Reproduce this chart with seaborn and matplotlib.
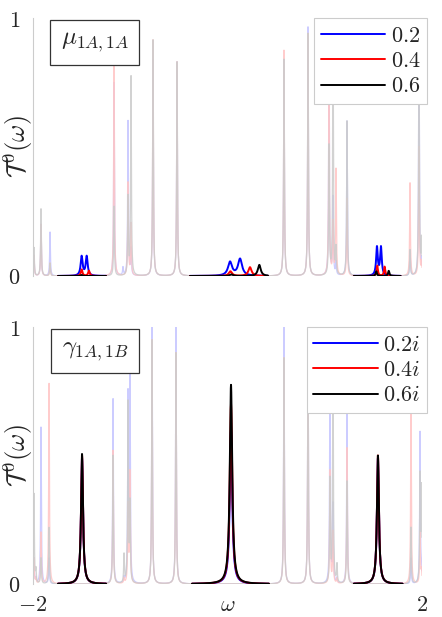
import numpy as np
import pandas as pd
import seaborn as sns
import matplotlib.pyplot as plt
from matplotlib.ticker import FixedLocator

sns.set_style("white")
plt.rcParams['mathtext.fontset'] = 'cm'
plt.rcParams['font.family'] = ['DejaVu Serif']

# ---- data: peak centre, height per curve ----
# top panel (mu), faint full spectra
top_bg_pos = [-1.99, -1.918, -1.825, -1.167, -1.075, -1.023, -0.992, -0.766, -0.519,
              0.581, 0.828, 1.044, 1.085, 1.116, 1.229, 1.877, 1.969, 1.995]
top_bg_blue = [0.08, 0.20, 0.17, 0.75, 0.03, 0.60, 0.10, 0.84, 0.83,
               0.84, 0.965, 0.95, 0.30, 0.05, 0.60, 0.10, 0.95, 0.05]
top_bg_red = [0.08, 0.20, 0.05, 0.86, 0.00, 0.36, 0.20, 0.915, 0.83,
              0.875, 0.94, 0.90, 0.20, 0.41, 0.30, 0.36, 0.50, 0.05]
top_bg_black = [0.11, 0.26, 0.05, 0.27, 0.00, 0.30, 0.77, 0.915, 0.83,
                0.84, 0.94, 0.50, 0.95, 0.10, 0.60, 0.10, 0.97, 0.13]

# bottom panel (gamma), faint full spectra
bot_bg_pos = [-1.99, -1.97, -1.918, -1.835, -1.177, -1.064, -1.023, -1.003, -0.776, -0.53,
              0.581, 0.828, 1.054, 1.085, 1.126, 1.229, 1.887, 1.98, 1.995]
bot_bg_blue = [0.10, 0.02, 0.61, 0.10, 0.72, 0.02, 0.72, 0.81, 1.00, 1.00,
               1.00, 1.00, 0.90, 0.30, 0.02, 0.68, 0.10, 0.59, 0.05]
bot_bg_red = [0.10, 0.02, 0.20, 0.78, 0.52, 0.02, 0.30, 0.43, 0.95, 0.90,
              0.88, 0.95, 0.44, 0.20, 0.02, 0.53, 0.68, 0.20, 0.05]
bot_bg_black = [0.35, 0.05, 0.10, 0.22, 0.50, 0.11, 0.70, 0.30, 0.95, 0.90,
                0.88, 0.95, 0.40, 0.90, 0.07, 0.40, 0.22, 0.41, 0.36]

# highlighted windows (start, end)
windows_top = [(-1.743, -1.249), (-0.386, 0.416), (1.30, 1.78)]
windows_bot = [(-1.743, -1.249), (-0.365, 0.427), (1.30, 1.80)]

# highlighted peaks: (centre, height, half width)
top_hl = {
    '0.2': [(-1.50, 0.075, 0.012), (-1.448, 0.075, 0.012), (0.026, 0.053, 0.025),
            (0.129, 0.065, 0.025), (1.537, 0.11, 0.01), (1.578, 0.11, 0.01)],
    '0.4': [(-1.50, 0.025, 0.01), (-1.425, 0.02, 0.01), (0.03, 0.018, 0.02),
            (0.231, 0.034, 0.02), (1.54, 0.04, 0.008), (1.616, 0.036, 0.008)],
    '0.6': [(-1.50, 0.004, 0.01), (0.04, 0.006, 0.02), (0.327, 0.043, 0.018),
            (1.53, 0.018, 0.008), (1.658, 0.02, 0.008)],
}
bot_hl = {
    '0.2i': [(-1.496, 0.49, 0.012), (0.036, 0.60, 0.015), (1.547, 0.49, 0.012)],
    '0.4i': [(-1.496, 0.50, 0.012), (0.036, 0.70, 0.015), (1.547, 0.50, 0.012)],
    '0.6i': [(-1.496, 0.506, 0.012), (0.036, 0.775, 0.015), (1.547, 0.50, 0.012)],
}
colors = ['#0000ff', '#ff0000', '#000000']
faint = ['#c4c4ff', '#ffc4c4', '#cbcbcb']


def spectrum(x, pos, heights, width):
    y = np.zeros_like(x)
    for c, h in zip(pos, heights):
        y += h * width**2 / ((x - c)**2 + width**2)
    return y


def peaks(x, plist):
    y = np.zeros_like(x)
    for c, h, w in plist:
        y += h * w**2 / ((x - c)**2 + w**2)
    return y


xs = np.linspace(-2, 2, 8001)

fig = plt.figure(figsize=(4.42, 6.17), dpi=100)
ax1 = fig.add_axes([0.0747, 0.5527, 0.880, 0.4181])
ax2 = fig.add_axes([0.0747, 0.0535, 0.880, 0.4165])

panels = [
    (ax1, top_bg_pos, [top_bg_blue, top_bg_red, top_bg_black], windows_top, top_hl,
     r'$\mu_{1A,1A}$'),
    (ax2, bot_bg_pos, [bot_bg_blue, bot_bg_red, bot_bg_black], windows_bot, bot_hl,
     r'$\gamma_{1A,1B}$'),
]

for ax, bpos, bgs, wins, hl, tag in panels:
    # faint background spectra
    for hts, col in zip(bgs, faint):
        sns.lineplot(x=xs, y=spectrum(xs, bpos, hts, 0.0045), color=col, alpha=0.85,
                     lw=0.9, ax=ax, estimator=None, sort=False)
    # highlighted windows
    for (lab, plist), col in zip(hl.items(), colors):
        first = True
        for a, b in wins:
            xw = xs[(xs >= a) & (xs <= b)]
            df = pd.DataFrame({'x': xw, 'y': peaks(xw, plist)})
            sns.lineplot(data=df, x='x', y='y', color=col, lw=1.4, ax=ax,
                         estimator=None, sort=False,
                         label=('$' + lab + '$') if first else None)
            first = False

    ax.set_xlim(-2, 2)
    ax.set_ylim(0, 1.0)
    for s in ['top', 'right', 'bottom']:
        ax.spines[s].set_visible(False)
    ax.spines['left'].set_color('#cccccc')
    ax.spines['left'].set_linewidth(0.8)
    ax.yaxis.set_major_locator(FixedLocator([0, 0.25, 0.5, 0.75, 1]))
    ax.set_yticklabels(['$0$', '', '', '', '$1$'], fontsize=16)
    ax.tick_params(axis='both', direction='in', length=4, color='#cccccc', width=0.8,
                   pad=9)
    ax.set_xticks([-2, 0, 2])
    ax.set_xlabel('')
    ax.set_ylabel(r'$\mathcal{T}^0(\omega)$', fontsize=19)
    ax.yaxis.set_label_coords(0.004, 0.5)
    ax.text(0.159, 0.905, tag, transform=ax.transAxes, ha='center', va='center',
            fontsize=18,
            bbox=dict(boxstyle='square,pad=0.42', fc='white', ec='#333333', lw=0.9))
    leg = ax.legend(loc='upper right', bbox_to_anchor=(1.013, 1.0), borderaxespad=0,
                    fontsize=16, handlelength=2.9, fancybox=False, framealpha=1,
                    edgecolor='#cccccc', labelspacing=0.15, borderpad=0.3,
                    handletextpad=0.25)
    leg.get_frame().set_linewidth(0.8)

ax1.set_xticklabels(['', '', ''])
ax2.set_xticklabels(['$-2$', r'$\omega$', '$2$'], fontsize=16)
ax2.tick_params(axis='x', pad=7)

fig.savefig('out.png', dpi=100)
